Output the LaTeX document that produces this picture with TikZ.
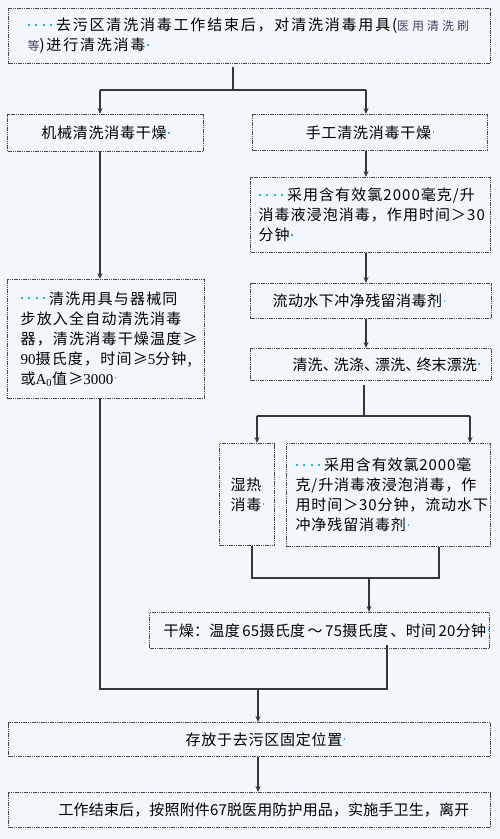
\documentclass[tikz,border=0pt]{standalone}
\usepackage{fontspec}
\setmainfont{Noto Sans CJK SC}
\newfontfamily\tnr{Liberation Serif}
\usetikzlibrary{arrows.meta,calc}
\definecolor{bg}{RGB}{243,247,252}
\definecolor{dotc}{RGB}{40,180,235}
\definecolor{ln}{RGB}{55,55,55}
\definecolor{bd}{RGB}{70,70,70}
\definecolor{smallc}{RGB}{70,65,100}
\newcommand\lead{\textcolor{dotc}{\rule[0.33em]{2pt}{2pt}\hspace{5.5pt}\rule[0.33em]{2pt}{2pt}\hspace{5.5pt}\rule[0.33em]{2pt}{2pt}\hspace{5.5pt}\rule[0.33em]{2pt}{2pt}}\nobreak\hspace{4pt}}
\newcommand\pmk{\nobreak\hspace{1.5pt}\nobreak\textcolor{dotc}{\rule[0.35em]{1.6pt}{1.6pt}}}
\newcommand\fs[1]{\addfontfeature{LetterSpace=#1}}
\newcommand\smallt[1]{{\fontsize{12}{20}\selectfont\addfontfeature{LetterSpace=25}\color{smallc}#1}}
\tikzset{
  box/.style={draw=bd, line width=1.2pt, dash pattern=on 1.2pt off 0.6pt, fill=bg,
    anchor=north west, inner ysep=0pt, align=left, text=black,
    font=\fontsize{15}{20}\selectfont},
  conn/.style={draw=ln, line width=1.1pt},
  arr/.style={-{Stealth[length=6pt,width=5pt]}}
}
\begin{document}
\begin{tikzpicture}[x=1pt,y=-1pt]
\useasboundingbox (0,0) rectangle (500,839);
\fill[bg] (0,0) rectangle (500,839);

\node[box, minimum width=482, minimum height=55, inner xsep=19pt, text width=444pt] (b1) at (8,8)
  {\fs{12}\lead 去污区清洗消毒工作结束后，对清洗消毒用具(\smallt{医用清洗刷}\\
   \smallt{等})进行清洗消毒\pmk};

\node[box, minimum width=196, minimum height=37, inner xsep=10pt, text width=176pt, align=center] (b2) at (7,114)
  {\fs{5}机械清洗消毒干燥\pmk};

\node[box, minimum width=235, minimum height=36, inner xsep=10pt, text width=215pt, align=center] (b3) at (252,114)
  {\fs{5}手工清洗消毒干燥\pmk};

\node[box, minimum width=240, minimum height=75, inner xsep=8pt, text width=224pt] (b4) at (250,177)
  {\fs{7}\lead 采用含有效氯2000毫克/升\\消毒液浸泡消毒，作用时间＞30\\分钟\pmk};

\node[box, minimum width=241, minimum height=35, inner xsep=22pt, text width=197pt] (b5) at (250,283)
  {\fs{3}\mbox{流动水下冲净残留消毒剂\pmk}};

\node[box, minimum width=241, minimum height=32, inner xsep=42pt, text width=157pt] (b6) at (250,348)
  {\fs{1}\mbox{清洗、\hspace{-4pt}洗涤、\hspace{-4pt}漂洗、\hspace{-4pt}终末漂洗\pmk}};

\node[box, minimum width=197, minimum height=119, inner xsep=13pt, text width=171pt] (bL) at (7,279)
  {\fs{8}\lead 清洗用具与器械同\\步放入全自动清洗消毒\\器，清洗消毒干燥温度≥\\{\tnr 90}摄氏度，时间≥{\tnr 5}分钟,\\或{\tnr A\textsubscript{0}}值≥{\tnr 3000}\pmk};

\node[box, minimum width=55, minimum height=102, inner xsep=11pt, text width=33pt] (b7) at (219,443)
  {\fs{5}\mbox{湿热\textcolor{dotc}{\tiny/}}\\\mbox{消毒\pmk}};

\node[box, minimum width=204, minimum height=103, inner xsep=9pt, text width=186pt] (b8) at (286,443)
  {\fs{6}\lead 采用含有效氯2000毫\\克/升消毒液浸泡消毒，作\\用时间＞30分钟，流动水下\\冲净残留消毒剂\pmk};

\node[box, minimum width=340, minimum height=36, inner xsep=14pt, text width=312pt] (b9) at (149,612)
  {\fs{2}\mbox{干燥：温度\,65摄氏度\,～\,75摄氏度\,、时间\,20分钟\pmk}};

\node[box, minimum width=482, minimum height=34, inner xsep=177pt, text width=128pt] (b10) at (8,722)
  {\fs{5}\mbox{存放于去污区固定位置\pmk}};

\node[box, minimum width=482, minimum height=35, inner xsep=50pt, text width=382pt] (b11) at (8,792)
  {\fs{1}\mbox{工作结束后，按照附件67脱医用防护用品，实施手卫生，离开\pmk}};

% connectors
\coordinate (j1) at (233,90);
\coordinate (jL) at (100,90);
\coordinate (jR) at (366,90);
\draw[conn, shorten <=3pt] (j1 |- b1.south) -- (j1);
\draw[conn] (jL) -- (jR);
\draw[conn,arr] (jL) -- (jL |- b2.north);
\draw[conn,arr] (jR) -- (jR |- b3.north);
\draw[conn,arr] (jL |- b2.south) -- (jL |- bL.north);
\draw[conn,arr] (jR |- b3.south) -- (jR |- b4.north);
\draw[conn,arr] (jR |- b4.south) -- (jR |- b5.north);
\draw[conn,arr] (jR |- b5.south) -- (jR |- b6.north);

\coordinate (j2) at (364,416);
\coordinate (j2L) at (257,416);
\coordinate (j2R) at (470,416);
\draw[conn, shorten <=4pt] (j2 |- b6.south) -- (j2);
\draw[conn] (j2L) -- (j2R);
\draw[conn,arr] (j2L) -- (j2L |- b7.north);
\draw[conn,arr] (j2R) -- (j2R |- b8.north);

\coordinate (j3L) at (252,578);
\coordinate (j3R) at (439,578);
\coordinate (j3) at (369,578);
\draw[conn] (j3L |- b7.south) -- (j3L) -- (j3R) -- (j3R |- b8.south);
\draw[conn,arr] (j3) -- (j3 |- b9.north);

\coordinate (j4L) at (100,689);
\coordinate (j4R) at (387,689);
\coordinate (j4) at (258,689);
\draw[conn] (j4L |- bL.south) -- (j4L) -- (j4R) -- ([yshift=4pt]j4R |- b9.south);
\draw[conn,arr] (j4) -- (j4 |- b10.north);
\draw[conn,arr] (j4 |- b10.south) -- (j4 |- b11.north);
\end{tikzpicture}
\end{document}
